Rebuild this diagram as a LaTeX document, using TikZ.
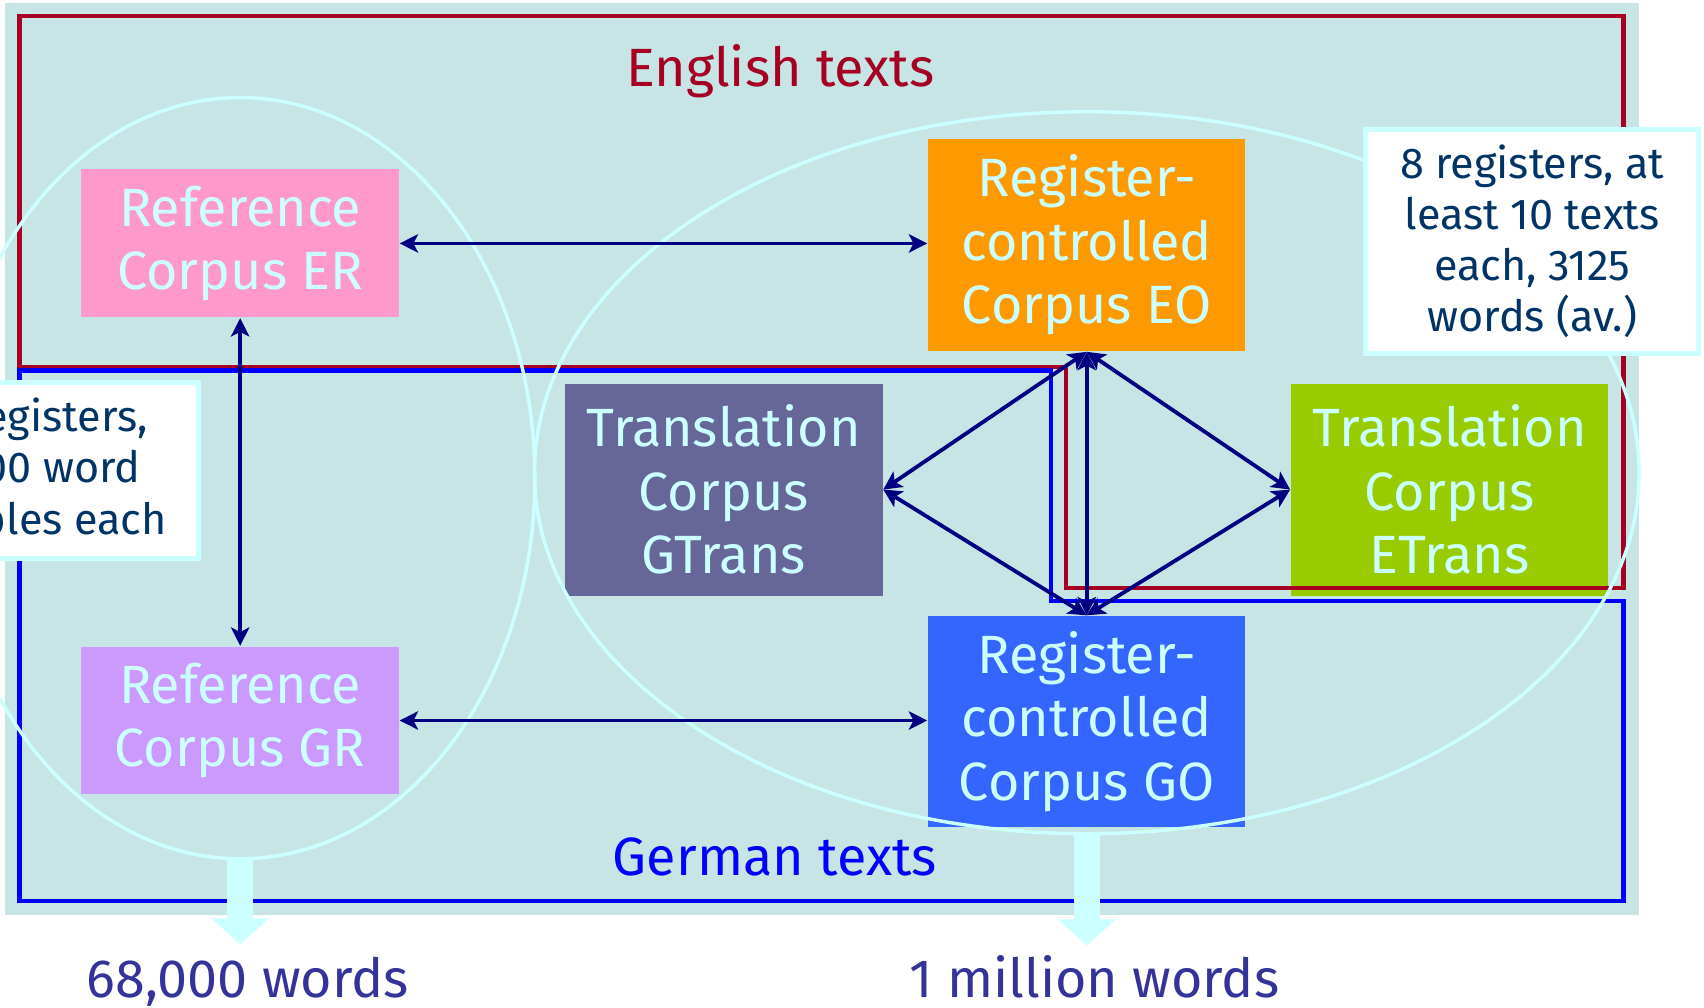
\documentclass[tikz,border=0pt]{standalone}
\usepackage{fontspec}
\setmainfont{Fira Sans}
\usetikzlibrary{arrows.meta,shapes.geometric}
\definecolor{bgc}{RGB}{200,229,230}
\definecolor{redl}{RGB}{165,0,33}
\definecolor{bluel}{RGB}{0,0,255}
\definecolor{navy}{RGB}{0,0,128}
\definecolor{lcyan}{RGB}{204,255,255}
\definecolor{notetext}{RGB}{0,51,102}
\definecolor{bottomtext}{RGB}{51,51,153}
\definecolor{cER}{RGB}{255,153,204}
\definecolor{cGR}{RGB}{204,153,255}
\definecolor{cEO}{RGB}{255,153,0}
\definecolor{cGO}{RGB}{51,102,255}
\definecolor{cGT}{RGB}{102,102,153}
\definecolor{cET}{RGB}{153,204,0}
\begin{document}
\begin{tikzpicture}[x=0.01cm,y=-0.01cm,
  corpus/.style={rectangle, inner sep=0pt, minimum width=2.92cm, text=lcyan, align=center, font=\fontsize{14.1}{16.6}\selectfont},
  notebox/.style={rectangle, fill=white, draw=lcyan, line width=1.3pt, inner sep=0pt, align=center, text=notetext, font=\fontsize{11.3}{13.4}\selectfont},
  arr/.style={draw=navy, line width=1pt, {Stealth[length=4.8pt,width=4.8pt,inset=1.2pt]}-{Stealth[length=4.8pt,width=4.8pt,inset=1.2pt]}},
  region/.style={line width=1.1pt},
  oval/.style={draw=lcyan, line width=0.9pt, ellipse, inner sep=0pt},
  fat/.style={draw=lcyan, line width=0.24cm, -{Triangle[length=0.24cm,width=0.52cm]}},
  bigtext/.style={font=\fontsize{14.1}{16.6}\selectfont, anchor=base}
]
\useasboundingbox (0,0) rectangle (1568,927);
\clip (0,0) rectangle (1568,927);
\fill[bgc] (5,3) rectangle (1508,842);

% corpus boxes
\node[corpus, fill=cER, minimum height=1.36cm] (ER) at (221,224) {Reference\\Corpus ER};
\node[corpus, fill=cGR, minimum height=1.36cm] (GR) at (221,663) {Reference\\Corpus GR};
\node[corpus, fill=cEO, minimum height=1.95cm] (EO) at (1000,225.5) {Register-\\controlled\\Corpus EO};
\node[corpus, fill=cGO, minimum height=1.94cm] (GO) at (1000,664) {Register-\\controlled\\Corpus GO};
\node[corpus, fill=cGT, minimum height=1.95cm] (GT) at (666,450.5) {Translation\\Corpus\\GTrans};
\node[corpus, fill=cET, minimum height=1.95cm] (ET) at (1334,450.5) {Translation\\Corpus\\ETrans};

% language regions
\draw[region, redl] (18,15) -- (1494,15) -- (1494,541) -- (981,541) -- (981,338) -- (18,338) -- cycle;
\draw[region, bluel] (18,341) -- (967,341) -- (967,553) -- (1494,553) -- (1494,829) -- (18,829) -- cycle;
\node[bigtext, text=redl] (EN) at (718,80) {English texts};
\node[bigtext, text=bluel] (DE) at (713,806) {German texts};

% ovals
\node[oval, minimum width=5.42cm, minimum height=7.0cm] (LE) at (221,440) {};
\node[oval, minimum width=10.16cm, minimum height=6.64cm] (RE) at (1000,435) {};

% connectors
\draw[arr] (ER.east) -- (ER.east -| EO.west);
\draw[arr] (ER.south) -- (GR.north);
\draw[arr] (GR.east) -- (GR.east -| GO.west);
\draw[arr] (EO.south) -- (GO.north);
\draw[arr] (EO.south) -- (GT.east);
\draw[arr] (EO.south) -- (ET.west);
\draw[arr] (GO.north) -- (GT.east);
\draw[arr] (GO.north) -- (ET.west);

% size arrows
\coordinate (T1) at (221,869);
\coordinate (T2) at (1000,870);
\draw[fat] (LE.south) -- (T1);
\draw[fat] (RE.south) -- (T2);
\node[bigtext, text=bottomtext] (W1) at (228,918) {68,000 words};
\node[bigtext, text=bottomtext] (W2) at (1007,918) {1 million words};

% notes
\node[notebox, minimum width=3.06cm, minimum height=2.06cm] (N1) at (1410,222) {8 registers, at\\least 10 texts\\each, 3125\\words (av.)};
\node[notebox, minimum width=3.04cm, minimum height=1.62cm] (N2) at (31,433) {17 registers,\\4,000 word\\samples each};
\end{tikzpicture}
\end{document}
